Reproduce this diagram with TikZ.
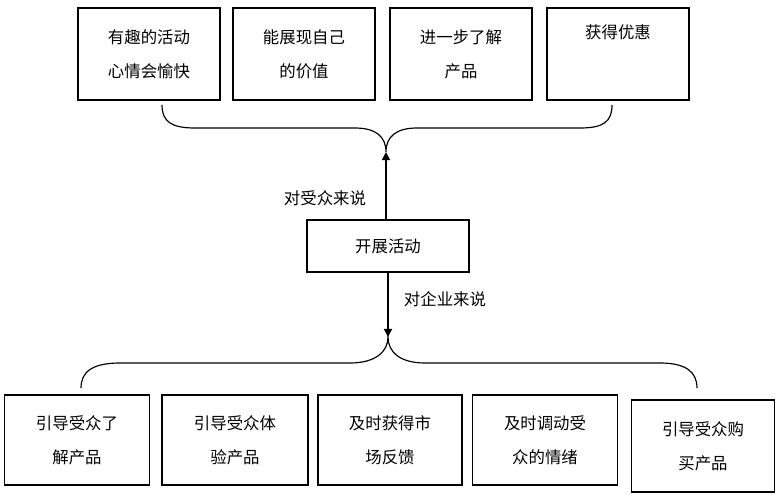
\documentclass[tikz,border=0pt]{standalone}
\usepackage{fontspec}
\newfontfamily\cjk{Noto Sans CJK SC}
\usetikzlibrary{arrows.meta}
\begin{document}
\begin{tikzpicture}[x=0.03cm,y=-0.03cm,
  box/.style={draw,line width=1pt,minimum width=4.26cm,minimum height=2.76cm,text width=3.9cm,align=center,font=\cjk\fontsize{14}{29}\selectfont,inner sep=0pt},
  lab/.style={font=\cjk\fontsize{14}{20}\selectfont,inner sep=0pt},
  br/.style={line width=1pt},
  arr/.style={line width=1.4pt,-{Triangle[length=7pt,width=7pt]}}]
\useasboundingbox (0,0) rectangle (782,500);
\node[box] (t1) at (149,54) {有趣的活动\\心情会愉快};
\node[box] (t2) at (304,54) {能展现自己\\的价值};
\node[box] (t3) at (461,54) {进一步了解\\产品};
\node[box] (t4) at (618,54) {获得优惠\\\strut};
\node[box,minimum width=4.86cm,minimum height=1.56cm] (c) at (388,246) {开展活动};
\node[box,minimum width=4.35cm,minimum height=2.7cm] (b1) at (77,440) {引导受众了\\解产品};
\node[box,minimum width=4.38cm,minimum height=2.7cm] (b2) at (235,440) {引导受众体\\验产品};
\node[box,minimum width=4.32cm,minimum height=2.7cm] (b3) at (390,440) {及时获得市\\场反馈};
\node[box,minimum width=4.35cm,minimum height=2.7cm] (b4) at (545,440) {及时调动受\\众的情绪};
\node[box,minimum width=4.29cm,minimum height=2.76cm] (b5) at (703,446) {引导受众购\\买产品};
\coordinate (tt) at (386,152);
\coordinate (bt) at (388,337);
\draw[br] (162,105) .. controls (162,122) and (172,128) .. (195,128) -- (355,128)
  .. controls (375,128) and (386,136) .. (tt)
  .. controls (386,136) and (397,128) .. (417,128) -- (580,128)
  .. controls (603,128) and (612,122) .. (612,105);
\draw[br] (81,388) .. controls (81,372) and (92,363) .. (120,363) -- (350,363)
  .. controls (375,363) and (388,352) .. (bt)
  .. controls (388,352) and (400,363) .. (425,363) -- (660,363)
  .. controls (686,363) and (697,372) .. (697,388);
\draw[arr] (c.north -| tt) -- (tt);
\draw[arr] (c.south -| bt) -- (bt);
\node[lab] (l1) at (325,198) {对受众来说};
\node[lab] (l2) at (445,299) {对企业来说};
\end{tikzpicture}
\end{document}
